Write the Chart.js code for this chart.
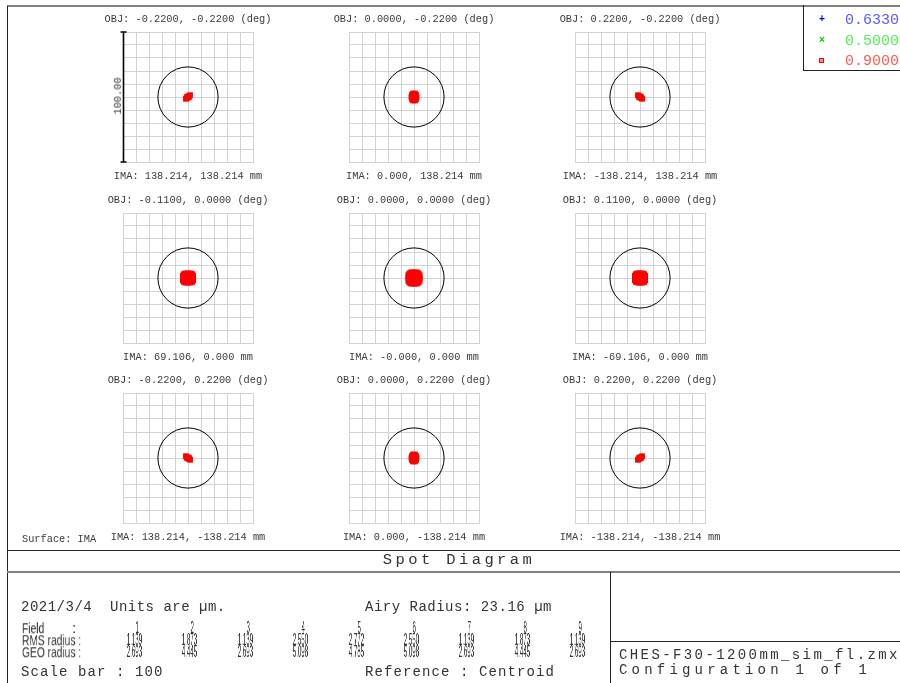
<!DOCTYPE html>
<html>
<head>
<meta charset="utf-8">
<script src="https://cdn.jsdelivr.net/npm/chart.js@4.4.0/dist/chart.umd.min.js"></script>
<style>
  body { margin: 0; width: 900px; height: 683px; overflow: hidden; position: relative; background: #fff;
         font-family: "Liberation Mono", monospace; color: #333; }
  .t { position: absolute; white-space: pre; line-height: 1; will-change: transform; }
  .c { transform: translate(-50%, -50%); }
  .l { transform: translateY(-50%); }
  .ln { position: absolute; background: #222; }
  canvas { position: absolute; }
  .small { font-size: 10.3px; color: #3a3a3a; }
  .big { font-size: 14px; letter-spacing: 0.5px; }
  .num { font-family: "Liberation Sans", sans-serif; font-size: 16px; transform-origin: right center; }
  .lab { font-family: "Liberation Sans", sans-serif; font-size: 15.5px; transform-origin: left center; }
</style>
</head>
<body>
<!-- frame -->
<div class="ln" style="left:7px;top:5px;width:893px;height:2px;background:#808080"></div>
<div class="ln" style="left:7px;top:6px;width:1px;height:677px"></div>
<div class="ln" style="left:7px;top:550px;width:893px;height:1px"></div>
<div class="ln" style="left:7px;top:571px;width:893px;height:2px;background:#808080"></div>
<div class="ln" style="left:610px;top:572px;width:1px;height:111px"></div>
<div class="ln" style="left:611px;top:641px;width:289px;height:1px"></div>
<!-- legend box -->
<div class="ln" style="left:803px;top:5px;width:1px;height:66px"></div>
<div class="ln" style="left:803px;top:70px;width:97px;height:1px"></div>
<div id="legend"></div>

<div class="t small l" style="left:22px;top:539px">Surface: IMA</div>
<div class="t c" style="left:459px;top:561px;font-size:15.5px;letter-spacing:3.4px">Spot Diagram</div>
<div class="t big l" style="left:21px;top:607px">2021/3/4  Units are µm.</div>
<div class="t big l" style="left:365px;top:607px">Airy Radius: 23.16 µm</div>
<div class="t big l" style="left:21px;top:672px;letter-spacing:1.1px">Scale bar : 100</div>
<div class="t big l" style="left:365px;top:672px;letter-spacing:1.1px">Reference : Centroid</div>
<div class="t l" style="left:619px;top:655px;font-size:14px;letter-spacing:2.4px">CHES-F30-1200mm_sim_fl.zmx</div>
<div class="t l" style="left:619px;top:670px;font-size:14px;letter-spacing:4.2px">Configuration 1 of 1</div>
<div class="t small c" style="left:118px;top:96px;color:#333;transform:translate(-50%,-50%) rotate(-90deg)">100.00</div>
<div id="table"></div>

<script>
// ---- data ----
const airyRadius = 23.16;   // µm
const scaleBar = 100;       // µm, width of each box
const wavelengths = ["0.6330", "0.5000", "0.9000"];

const objLabels = [
  "OBJ: -0.2200, -0.2200 (deg)", "OBJ: 0.0000, -0.2200 (deg)", "OBJ: 0.2200, -0.2200 (deg)",
  "OBJ: -0.1100, 0.0000 (deg)", "OBJ: 0.0000, 0.0000 (deg)", "OBJ: 0.1100, 0.0000 (deg)",
  "OBJ: -0.2200, 0.2200 (deg)", "OBJ: 0.0000, 0.2200 (deg)", "OBJ: 0.2200, 0.2200 (deg)"
];
const imaLabels = [
  "IMA: 138.214, 138.214 mm", "IMA: 0.000, 138.214 mm", "IMA: -138.214, 138.214 mm",
  "IMA: 69.106, 0.000 mm", "IMA: -0.000, 0.000 mm", "IMA: -69.106, 0.000 mm",
  "IMA: 138.214, -138.214 mm", "IMA: 0.000, -138.214 mm", "IMA: -138.214, -138.214 mm"
];

const fieldNums = ["1", "2", "3", "4", "5", "6", "7", "8", "9"];
const rmsRadius = ["1.139", "1.873", "1.139", "2.550", "2.772", "2.550", "1.139", "1.873", "1.139"];
const geoRadius = ["2.693", "4.445", "2.693", "5.098", "4.785", "5.098", "2.693", "4.445", "2.693"];

// ray hits in µm (x, y) relative to centroid
const spotCornerA = [[-1.6,-1.4],[-1.1,-0.9],[-0.5,-0.4],[0,0],[0.5,0.5],[1.1,0.9],[1.6,1.4],[-0.6,0.3],[0.6,-0.3]];
const spotCornerB = [[1.6,-1.4],[1.1,-0.9],[0.5,-0.4],[0,0],[-0.5,0.5],[-1.1,0.9],[-1.6,1.4],[0.6,0.3],[-0.6,-0.3]];
const spotEdgeV = [[-0.8,2.7],[0.8,2.7],[-1.6,1.6],[0,1.6],[1.6,1.6],[-2.0,0],[0,0],[2.0,0],
                   [-1.6,-1.6],[0,-1.6],[1.6,-1.6],[-0.8,-2.7],[0.8,-2.7]];
const spotEdgeH = [[-2,3.6],[0,3.6],[2,3.6],[-4,1.8],[-2,1.8],[0,1.8],[2,1.8],[4,1.8],[-4,0],[-2,0],[0,0],[2,0],[4,0],
                   [-4,-1.8],[-2,-1.8],[0,-1.8],[2,-1.8],[4,-1.8],[-2,-3.6],[0,-3.6],[2,-3.6],
                   [-3.2,3.0],[3.2,3.0],[-3.2,-3.0],[3.2,-3.0]];
const spotCenter = [[-2.2,4.4],[0,4.4],[2.2,4.4],[-4.4,2.2],[-2.2,2.2],[0,2.2],[2.2,2.2],[4.4,2.2],
                    [-4.4,0],[-2.2,0],[0,0],[2.2,0],[4.4,0],[-4.4,-2.2],[-2.2,-2.2],[0,-2.2],[2.2,-2.2],[4.4,-2.2],
                    [-2.2,-4.4],[0,-4.4],[2.2,-4.4],[-3.6,3.6],[3.6,3.6],[-3.6,-3.6],[3.6,-3.6]];
const fieldSpots = [spotCornerA, spotEdgeV, spotCornerB, spotEdgeH, spotCenter, spotEdgeH, spotCornerB, spotEdgeV, spotCornerA];

const boxLeft = [123, 349, 575];
const boxTop = [32, 213, 393];
const colRight = [142, 197, 253, 308, 364, 419, 474, 530, 585];

// ---- text ----
function addText(parent, cls, text, style) {
  const d = document.createElement("div");
  d.className = "t " + cls;
  d.textContent = text;
  d.setAttribute("style", style);
  parent.appendChild(d);
  return d;
}

const legend = document.getElementById("legend");
const legendColors = ["#5a5aff", "#55ee55", "#ff5a5a"];
const legendMarks = ["+", "×", ""];
const markColors = ["#0000ff", "#00cc00", "#ff0000"];
wavelengths.forEach((w, i) => {
  const y = 20 + i * 20.5;
  addText(legend, "l", w, `left:845px;top:${y}px;font-size:15px;color:${legendColors[i]}`);
  if (i < 2) {
    addText(legend, "c", legendMarks[i], `left:822px;top:${y}px;font-size:10px;font-weight:bold;color:${markColors[i]}`);
  } else {
    const m = document.createElement("div");
    m.setAttribute("style", `position:absolute;left:819px;top:${y - 3}px;width:3px;height:3px;border:1px solid #f00;background:#ff9090`);
    legend.appendChild(m);
  }
});

const table = document.getElementById("table");
addText(table, "lab", "Field", "left:22px;top:628px;transform:translateY(-50%) scaleX(0.66)");
addText(table, "lab", ":", "left:72px;top:628px;transform:translateY(-50%)");
addText(table, "lab", "RMS radius :", "left:22px;top:640px;transform:translateY(-50%) scaleX(0.66)");
addText(table, "lab", "GEO radius :", "left:22px;top:652px;transform:translateY(-50%) scaleX(0.66)");
colRight.forEach((xr, i) => {
  addText(table, "num", fieldNums[i], `right:${900 - xr + 3}px;top:628px;transform:translateY(-50%) scaleX(0.38)`);
  addText(table, "num", rmsRadius[i], `right:${900 - xr}px;top:640px;transform:translateY(-50%) scaleX(0.38)`);
  addText(table, "num", geoRadius[i], `right:${900 - xr}px;top:652px;transform:translateY(-50%) scaleX(0.38)`);
});

// ---- charts ----
const airyPlugin = {
  id: "airy",
  beforeDatasetsDraw(chart) {
    const { ctx, scales: { x, y } } = chart;
    const cx = x.getPixelForValue(0);
    const cy = y.getPixelForValue(0);
    const r = x.getPixelForValue(airyRadius) - cx;
    ctx.save();
    ctx.beginPath();
    ctx.arc(cx, cy, r, 0, Math.PI * 2);
    ctx.strokeStyle = "#000";
    ctx.lineWidth = 1;
    ctx.stroke();
    ctx.restore();
  }
};

const scaleBarPlugin = {
  id: "scaleBar",
  afterDraw(chart, args, opts) {
    if (!opts.show) return;
    const { ctx, scales: { x, y } } = chart;
    const x0 = x.getPixelForValue(-scaleBar / 2) + 0.5;
    const y0 = y.getPixelForValue(scaleBar / 2);
    const y1 = y.getPixelForValue(-scaleBar / 2);
    ctx.save();
    ctx.strokeStyle = "#000";
    ctx.lineWidth = 1.6;
    ctx.beginPath();
    ctx.moveTo(x0, y0); ctx.lineTo(x0, y1);
    ctx.moveTo(x0 - 3, y0); ctx.lineTo(x0 + 3, y0);
    ctx.moveTo(x0 - 3, y1); ctx.lineTo(x0 + 3, y1);
    ctx.stroke();
    ctx.restore();
  }
};

const axis = () => ({
  type: "linear", min: -scaleBar / 2, max: scaleBar / 2,
  ticks: { display: false, stepSize: 10 },
  grid: { color: "#d3d3d3", drawTicks: false, lineWidth: 1 },
  border: { color: "#d3d3d3" }
});

for (let i = 0; i < 9; i++) {
  const gx = boxLeft[i % 3], gy = boxTop[Math.floor(i / 3)];
  const pts = fieldSpots[i].map(([x, y]) => ({ x, y }));

  addText(document.body, "small c", objLabels[i], `left:${gx + 65}px;top:${gy - 13}px`);
  addText(document.body, "small c", imaLabels[i], `left:${gx + 65}px;top:${gy + 144}px`);

  const canvas = document.createElement("canvas");
  canvas.width = 148; canvas.height = 142;
  canvas.style.left = (gx - 12) + "px";
  canvas.style.top = (gy - 6) + "px";
  document.body.appendChild(canvas);

  new Chart(canvas.getContext("2d"), {
    type: "scatter",
    data: {
      datasets: [
        { label: wavelengths[2], data: pts, pointStyle: "rect", pointRadius: 4, backgroundColor: "#ff0000", borderWidth: 0 },
        { label: wavelengths[1], data: pts, pointStyle: "crossRot", pointRadius: 2.5, borderColor: "#00dd00", borderWidth: 1 },
        { label: wavelengths[0], data: pts, pointStyle: "cross", pointRadius: 2.5, borderColor: "#0000ff", borderWidth: 1 }
      ]
    },
    options: {
      responsive: false,
      animation: false,
      events: [],
      layout: { padding: { left: 12, top: 6, right: 6, bottom: 6 } },
      scales: { x: axis(), y: axis() },
      plugins: { legend: { display: false }, tooltip: { enabled: false }, scaleBar: { show: i === 0 } }
    },
    plugins: [airyPlugin, scaleBarPlugin]
  });
}
</script>
</body>
</html>
